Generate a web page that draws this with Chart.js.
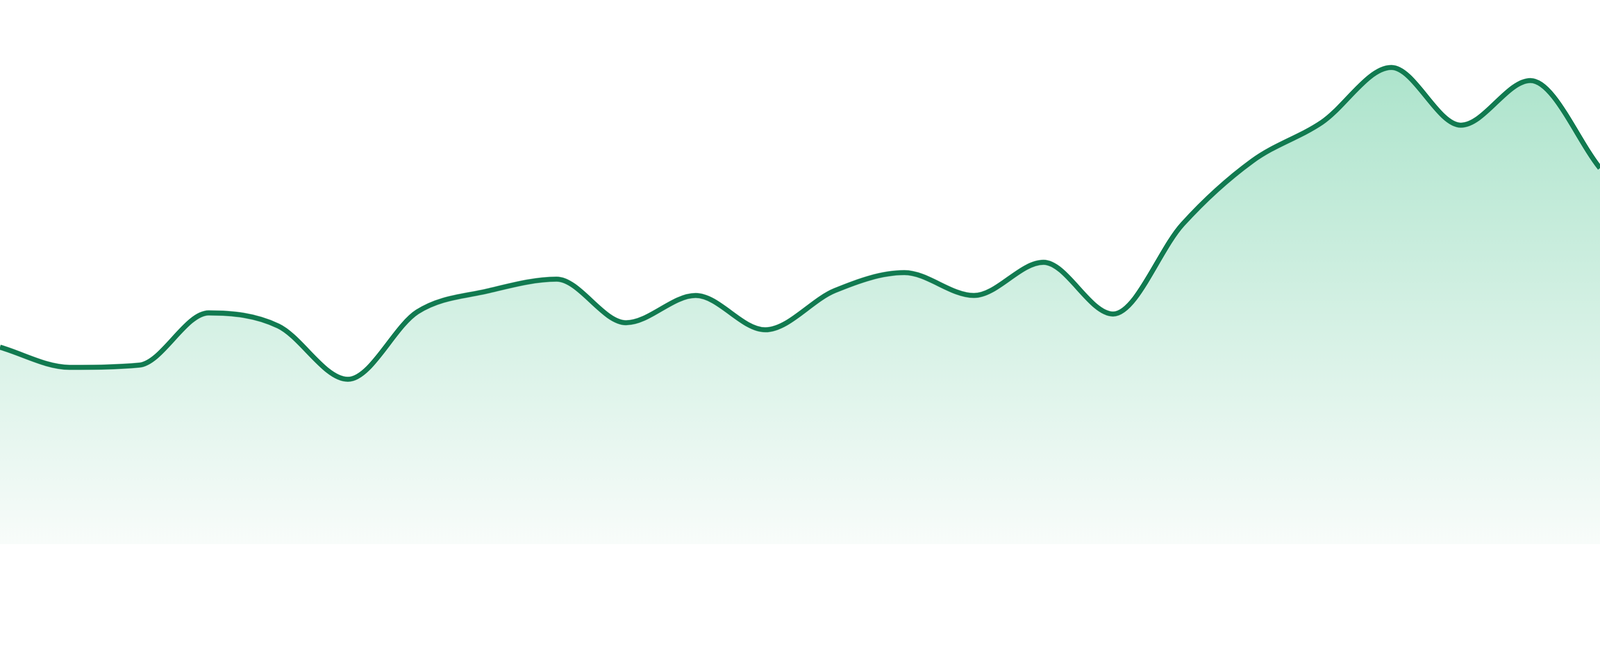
<!DOCTYPE html>
<html>
<head>
<meta charset="utf-8">
<title>Trend</title>
<script src="https://cdn.jsdelivr.net/npm/chart.js@4/dist/chart.umd.min.js"></script>
<style>
  html, body { margin: 0; padding: 0; background: #ffffff; overflow: hidden; }
  #wrap { width: 100vw; height: 35vw; position: relative; }
  #wrap canvas { display: block; }
</style>
</head>
<body>
<div id="wrap"><canvas id="trend-chart"></canvas></div>
<script>
// Categories (hidden on the chart)
const labels = [
    "1", "2", "3", "4", "5", "6", "7", "8", "9", "10", "11", "12",
    "13", "14", "15", "16", "17", "18", "19", "20", "21", "22", "23", "24"
];

// Series values
const values = [
    36.2, 32.5, 32.9, 42.5, 40.1, 30.3, 42.7, 46.5, 48.7, 40.7, 45.7, 39.4,
    46.6, 49.9, 45.7, 51.8, 42.3, 58.8, 70.4, 77.5, 87.6, 77.0, 85.2, 69.1
];

// Value axis range
const yRange = [0, 100];

// Sizes were measured on a 4800px wide picture, scale them to the real viewport
const k = window.innerWidth / 4800;

// Gradient under the line, from mint at the top to almost white at the bottom
function areaGradient(context) {
    const chart = context.chart;
    const area = chart.chartArea;
    if (!area) {
        return 'rgba(173, 228, 204, 0.6)';
    }
    const top = chart.scales.y.getPixelForValue(Math.max(...values));
    const g = chart.ctx.createLinearGradient(0, top, 0, area.bottom);
    g.addColorStop(0, '#ade4cc');
    g.addColorStop(1, '#f8fcfa');
    return g;
}

const ctx = document.getElementById('trend-chart').getContext('2d');
new Chart(ctx, {
    type: 'line',
    data: {
        labels: labels,
        datasets: [{
            data: values,
            borderColor: '#117a50',
            borderWidth: 15 * k,
            backgroundColor: areaGradient,
            fill: 'origin',
            cubicInterpolationMode: 'monotone',
            pointRadius: 0,
            pointHoverRadius: 0
        }]
    },
    options: {
        responsive: true,
        maintainAspectRatio: false,
        animation: false,
        layout: {
            autoPadding: false, // line runs right up to the canvas edges
            padding: { top: 0, left: 0, right: 0, bottom: 48 * k }
        },
        plugins: {
            legend: { display: false },
            tooltip: { enabled: false }
        },
        scales: {
            x: { display: false, offset: false },
            y: { display: false, min: yRange[0], max: yRange[1] }
        }
    }
});
</script>
</body>
</html>
